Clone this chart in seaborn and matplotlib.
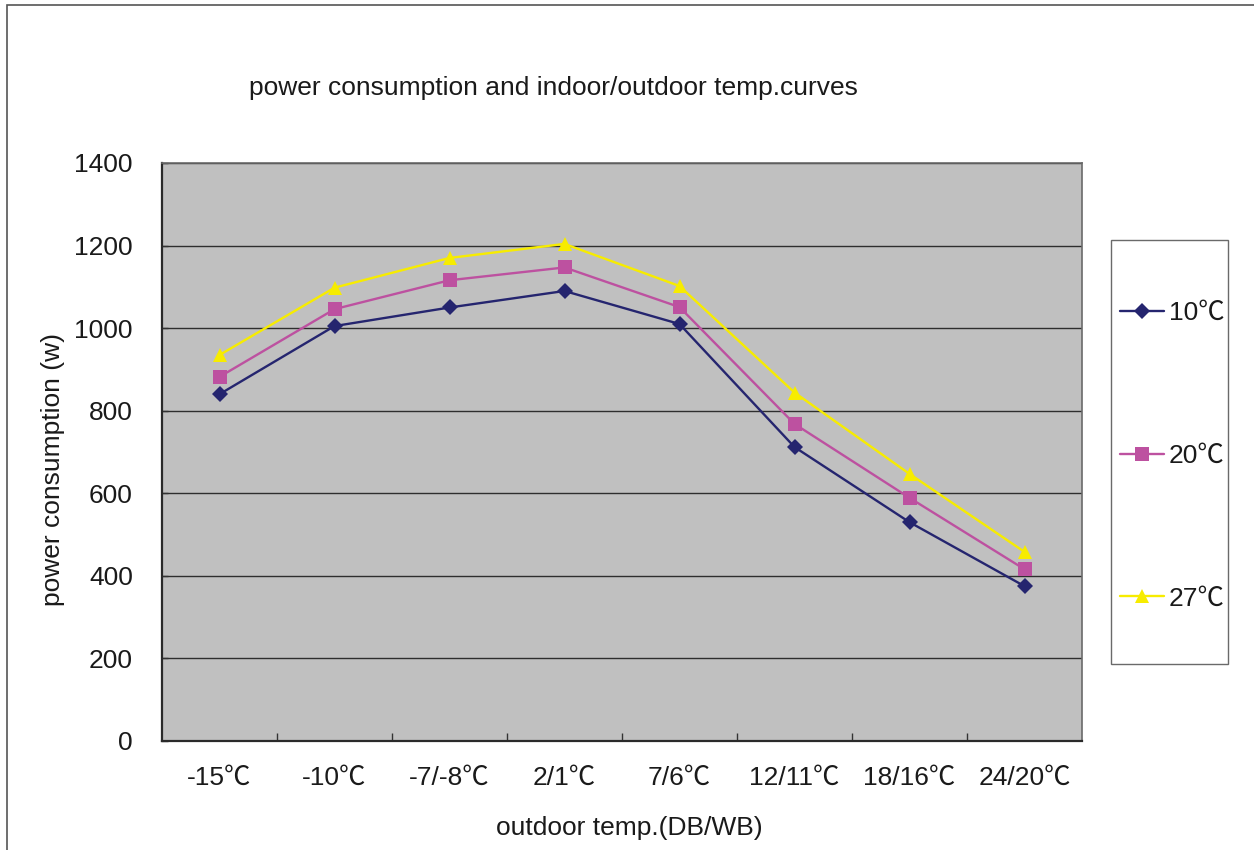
import matplotlib
matplotlib.use("Agg")
import matplotlib.pyplot as plt
from matplotlib.patches import Rectangle
from matplotlib.ticker import FixedLocator, NullFormatter
import seaborn as sns
import pandas as pd
import numpy as np

# Outdoor temperature conditions (dry bulb / wet bulb)
categories = ["-15℃", "-10℃", "-7/-8℃", "2/1℃", "7/6℃", "12/11℃", "18/16℃", "24/20℃"]

# Power consumption (W) for each indoor temperature
indoor_labels = ["10℃", "20℃", "27℃"]
power_10 = [840, 1005, 1050, 1090, 1010, 712, 530, 375]
power_20 = [882, 1046, 1116, 1147, 1051, 768, 589, 416]
power_27 = [935, 1098, 1170, 1204, 1102, 844, 647, 458]

y_ticks = [0, 200, 400, 600, 800, 1000, 1200, 1400]

series = [power_10, power_20, power_27]
df = pd.DataFrame({
    "pos": np.tile(np.arange(len(categories)), len(series)),
    "power": np.concatenate(series),
    "indoor": np.repeat(indoor_labels, len(categories)),
})

sns.set_theme(style="white")
plt.rcParams["font.family"] = ["Liberation Sans", "Noto Sans CJK SC", "DejaVu Sans"]

FS = 19
W, H = 1254, 850
fig = plt.figure(figsize=(W / 100, H / 100), dpi=100)
ax = fig.add_axes([162 / W, 1 - 741 / H, (1082 - 162) / W, (741 - 163) / H])
ax.set_facecolor("#c0c0c0")

palette = {"10℃": "#25256f", "20℃": "#bd51a0", "27℃": "#f7ec00"}
markers = {"10℃": "D", "20℃": "s", "27℃": "^"}
sizes = {"10℃": 8.5, "20℃": 9.5, "27℃": 10.5}

for lab in indoor_labels:
    sub = df[df["indoor"] == lab]
    sns.lineplot(data=sub, x="pos", y="power", ax=ax, color=palette[lab],
                 marker=markers[lab], markersize=sizes[lab], markeredgewidth=0,
                 linewidth=1.7, label=lab, legend=False)

ax.set_xlim(-0.5, len(categories) - 0.5)
ax.set_ylim(0, 1400)
ax.set_yticks(y_ticks)
ax.yaxis.grid(True, color="#2e2e2e", linewidth=1.0)
ax.xaxis.grid(False)
ax.set_axisbelow(True)

ax.set_xticks(range(len(categories)))
ax.set_xticklabels(categories)
ax.xaxis.set_minor_locator(FixedLocator(np.arange(0.5, len(categories) - 0.5, 1)))
ax.xaxis.set_minor_formatter(NullFormatter())
ax.tick_params(axis="x", which="major", length=0, pad=18, labelsize=FS, colors="#1a1a1a")
ax.tick_params(axis="x", which="minor", direction="in", length=6, width=1, color="#333333", bottom=True)
ax.tick_params(axis="y", which="major", direction="in", length=4, width=1, color="#333333",
               pad=21, labelsize=FS, colors="#1a1a1a", left=True)

for side in ["left", "bottom"]:
    ax.spines[side].set_color("#2a2a2a")
    ax.spines[side].set_linewidth(1.6)
for side in ["top", "right"]:
    ax.spines[side].set_color("#6a6a6a")
    ax.spines[side].set_linewidth(1.2)

ax.set_xlabel("outdoor temp.(DB/WB)", fontsize=FS, color="#1a1a1a")
ax.set_ylabel("power consumption (w)", fontsize=FS, color="#1a1a1a")
ax.xaxis.set_label_coords(0.508, -0.129)
ax.yaxis.set_label_coords(-0.105, 0.469)

fig.text(553 / W, 1 - 88 / H, "power consumption and indoor/outdoor temp.curves",
         ha="center", va="center", fontsize=FS, color="#1a1a1a")

# Legend box drawn as its own frame, entries spaced inside it
fig.add_artist(Rectangle((1111 / W, 1 - 664 / H), (1228 - 1111) / W, (664 - 240) / H,
                         transform=fig.transFigure, fill=False,
                         edgecolor="#6a6a6a", linewidth=1.0))
handles, labels = ax.get_legend_handles_labels()
leg = fig.legend(handles, labels, loc="upper left", bbox_to_anchor=(1120 / W, 1 - 301 / H),
                 borderaxespad=0, frameon=False, fontsize=FS,
                 handlelength=1.65, handletextpad=0.2,
                 labelspacing=4.5, borderpad=0)
for t in leg.get_texts():
    t.set_color("#1a1a1a")

# Outer chart border (left and top edges)
fig.add_artist(Rectangle((7 / W, -0.5), 2.0, 0.5 + (1 - 5 / H), transform=fig.transFigure,
                         fill=False, edgecolor="#555555", linewidth=1.2))

fig.savefig("out.png", dpi=100)
